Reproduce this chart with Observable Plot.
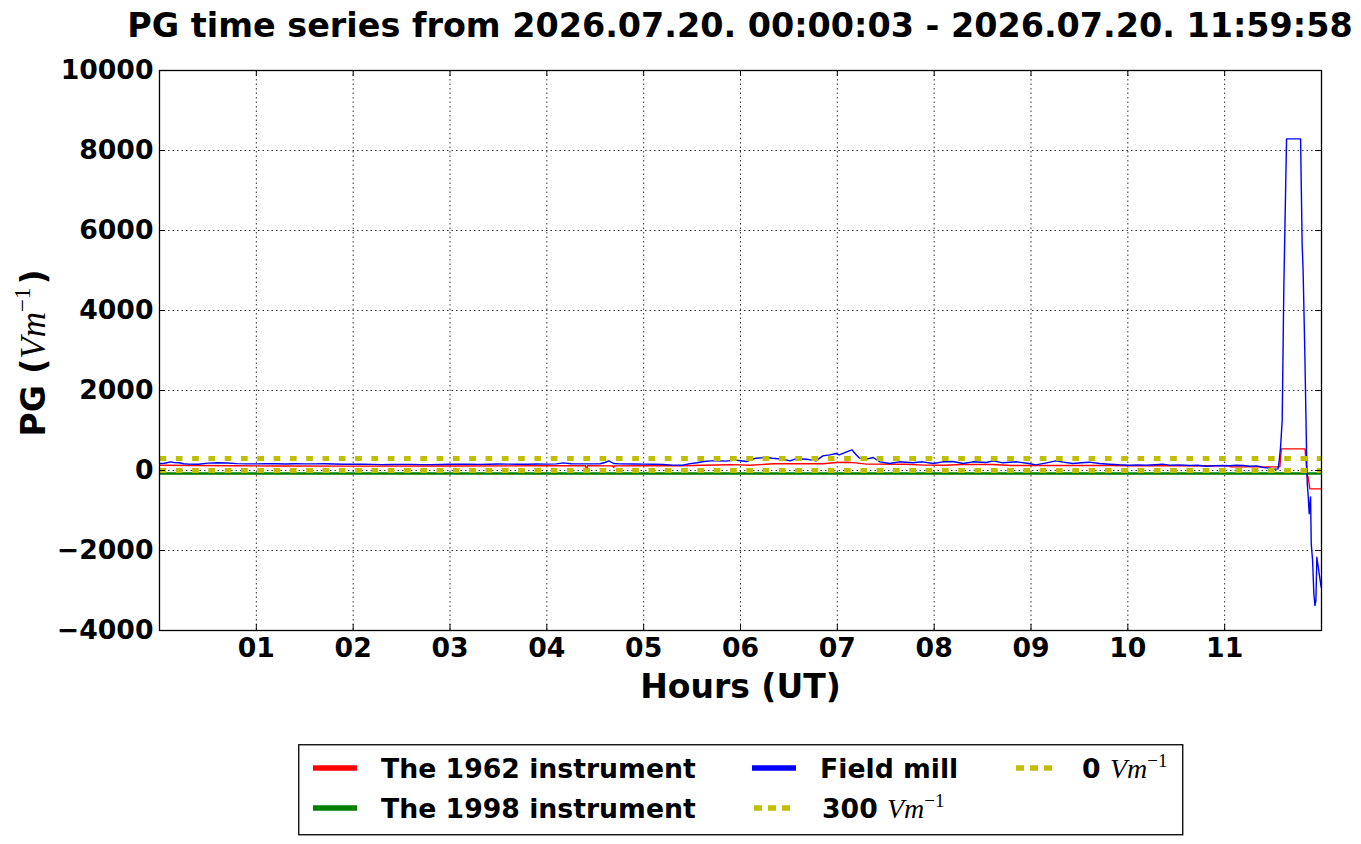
<!DOCTYPE html>
<html><head><meta charset="utf-8">
<script src="https://cdn.jsdelivr.net/npm/d3@7"></script>
<script src="https://cdn.jsdelivr.net/npm/@observablehq/plot@0.6"></script>
<style>
body{margin:0;background:#fff;width:1361px;height:844px;overflow:hidden;position:relative;font-family:"DejaVu Sans",sans-serif;}
#title{position:absolute;left:740px;top:9px;transform:translateX(-50%);white-space:nowrap;font-weight:bold;font-size:33.4px;line-height:33px;color:#000;}
#chart{position:absolute;left:0;top:50px;}
#legend{position:absolute;left:298px;top:744px;}
</style></head><body>
<div id="title">PG time series from 2026.07.20. 00:00:03 - 2026.07.20. 11:59:58</div>
<div id="chart"></div>
<div id="legend"></div>
<script>
// ---- data (hours UT, PG in V/m) ----
const fieldHours = [0.00,0.05,0.10,0.12,0.15,0.20,0.25,0.30,0.40,0.50,0.60,0.70,0.80,0.90,1.00,1.10,1.20,1.30,1.40,1.50,1.60,1.70,1.80,1.90,2.00,2.10,2.20,2.30,2.40,2.50,2.60,2.70,2.80,2.90,3.00,3.10,3.20,3.30,3.40,3.50,3.60,3.70,3.80,3.90,4.00,4.10,4.17,4.25,4.40,4.55,4.60,4.64,4.69,4.75,4.90,5.00,5.10,5.20,5.30,5.40,5.48,5.55,5.62,5.70,5.75,5.85,5.95,6.00,6.06,6.16,6.27,6.33,6.44,6.51,6.57,6.68,6.78,6.85,6.92,6.99,7.02,7.09,7.15,7.19,7.23,7.30,7.37,7.44,7.54,7.64,7.78,7.88,7.99,8.09,8.19,8.30,8.40,8.54,8.61,8.71,8.85,8.98,9.05,9.16,9.26,9.33,9.43,9.52,9.60,9.71,9.81,9.91,10.02,10.10,10.19,10.28,10.36,10.43,10.53,10.64,10.72,10.81,10.90,10.98,11.05,11.12,11.19,11.26,11.33,11.40,11.46,11.50,11.55,11.56,11.577,11.594,11.611,11.639,11.784,11.80,11.81,11.828,11.846,11.853,11.863,11.873,11.887,11.894,11.908,11.921,11.932,11.942,11.952,11.966,11.976,11.997];
const fieldValues = [175,182,205,215,198,195,168,160,158,185,192,188,172,165,166,172,170,164,168,166,165,170,162,158,160,155,152,148,150,152,152,146,148,150,155,160,158,154,156,162,160,155,158,162,160,165,190,168,166,168,200,240,175,165,162,160,158,150,135,132,172,195,225,240,242,235,260,245,225,308,325,308,283,242,292,283,242,367,392,425,392,458,517,408,308,283,325,217,175,217,192,217,175,217,225,175,217,200,242,192,217,175,142,192,242,208,175,195,208,175,158,142,133,140,133,145,158,133,140,125,130,108,120,125,118,133,125,108,115,75,60,33,40,170,575,1250,4580,8290,8290,5670,5000,2920,420,-325,-660,-1080,-660,-1830,-2250,-3080,-3375,-3250,-2170,-2400,-2580,-2920];

const inst1962Hours = [0.00,0.40,0.80,1.20,2.00,3.00,4.00,4.40,4.41,4.42,4.68,4.69,4.70,5.00,5.40,5.60,5.90,6.00,6.10,6.34,6.85,6.99,7.10,7.19,7.30,7.70,7.90,8.10,8.30,8.60,8.80,9.00,9.85,10.00,11.05,11.06,11.57,11.585,11.83,11.853,11.86,11.88,12.00];
const inst1962Values = [130,125,118,112,110,112,117,117,10,117,115,75,115,117,120,133,145,140,133,167,170,200,205,190,160,155,135,133,150,150,125,125,125,117,117,92,90,540,540,-170,-150,-460,-460];

const inst1998Hours = [0, 12];
const inst1998Values = [-75, -75];

const refHours = [0, 12];
const ref300 = [300, 300];
const ref0 = [0, 0];

const hourTicks = [1,2,3,4,5,6,7,8,9,10,11];
const yTicks = [-4000,-2000,0,2000,4000,6000,8000,10000];

const seriesNames = ["The 1962 instrument","The 1998 instrument","Field mill","300","0"];
const seriesColors = ["#ff0000","#008000","#0000ff","#bfbf00","#bfbf00"];

// ---- build rows ----
const rows = (hs, vs) => hs.map((h, i) => ({h, v: vs[i]}));
const fieldRows = rows(fieldHours, fieldValues);
const redRows = rows(inst1962Hours, inst1962Values);
const greenRows = rows(inst1998Hours, inst1998Values);
const r300Rows = rows(refHours, ref300);
const r0Rows = rows(refHours, ref0);

const W = 1361, H = 654, mT = 20, mB = 74, mL = 159, mR = 40;
const plotW = W - mL - mR, plotH = H - mT - mB;
const tickLen = 6;
const fmtY = d => d < 0 ? "\u2212" + Math.abs(d) : String(d);
const fmtX = d => String(d).padStart(2, "0");

const plot = Plot.plot({
  width: W, height: H,
  marginTop: mT, marginBottom: mB, marginLeft: mL, marginRight: mR,
  style: {fontFamily: "DejaVu Sans", fontWeight: "bold", fontSize: "26.7px", background: "white", color: "black", overflow: "visible"},
  x: {domain: [0, 12]},
  y: {domain: [-4000, 10000]},
  marks: [
    Plot.gridX({ticks: hourTicks, stroke: "black", strokeOpacity: 1, strokeWidth: 0.8, strokeDasharray: "1.5,3"}),
    Plot.gridY({ticks: yTicks, stroke: "black", strokeOpacity: 1, strokeWidth: 0.8, strokeDasharray: "1.5,3"}),
    Plot.line(redRows, {x: "h", y: "v", stroke: seriesColors[0], strokeWidth: 1.4, clip: true}),
    Plot.line(greenRows, {x: "h", y: "v", stroke: seriesColors[1], strokeWidth: 2.6, clip: true}),
    Plot.line(fieldRows, {x: "h", y: "v", stroke: seriesColors[2], strokeWidth: 1.4, clip: true}),
    Plot.line(r300Rows, {x: "h", y: "v", stroke: seriesColors[3], strokeWidth: 5, strokeDasharray: "6.7,9.6", strokeLinecap: "butt", clip: true}),
    Plot.line(r0Rows, {x: "h", y: "v", stroke: seriesColors[4], strokeWidth: 5, strokeDasharray: "6.7,9.6", strokeLinecap: "butt", clip: true}),
    // inward ticks on all four sides
    Plot.tickX(hourTicks, {x: d => d, stroke: "black", strokeWidth: 1, insetTop: plotH - tickLen}),
    Plot.tickX(hourTicks, {x: d => d, stroke: "black", strokeWidth: 1, insetBottom: plotH - tickLen}),
    Plot.tickY(yTicks, {y: d => d, stroke: "black", strokeWidth: 1, insetRight: plotW - tickLen}),
    Plot.tickY(yTicks, {y: d => d, stroke: "black", strokeWidth: 1, insetLeft: plotW - tickLen}),
    Plot.frame({stroke: "black", strokeWidth: 1.3}),
    Plot.axisX({ticks: hourTicks, tickFormat: fmtX, tickSize: 0, tickPadding: 8, fontSize: 26.7, fontWeight: "bold", label: null}),
    Plot.axisY({ticks: yTicks, tickFormat: fmtY, tickSize: 0, tickPadding: 6, fontSize: 26.7, fontWeight: "bold", label: null}),
    Plot.text(["Hours (UT)"], {text: d => d, frameAnchor: "bottom", dy: 67, fontSize: 33, fontWeight: "bold", fill: "black"})
  ]
});
document.getElementById("chart").appendChild(plot);

// y-axis label with mathtext-like unit
const svg = d3.select(plot);
const yl = svg.append("text")
  .attr("transform", `translate(45,${353 - 50}) rotate(-90)`)
  .attr("text-anchor", "middle")
  .attr("fill", "black");
yl.append("tspan").attr("font-family", "DejaVu Sans").attr("font-weight", "bold").attr("font-size", 33).text("PG (");
yl.append("tspan").attr("font-family", "Liberation Serif").attr("font-style", "italic").attr("font-weight", "normal").attr("font-size", 35).text("Vm");
yl.append("tspan").attr("font-family", "Liberation Serif").attr("font-weight", "normal").attr("font-size", 23).attr("dy", -15).text("\u22121");
yl.append("tspan").attr("font-family", "DejaVu Sans").attr("font-weight", "bold").attr("font-size", 33).attr("dy", 15).attr("dx", 3).text(")");

// legend
const lg = d3.select("#legend").append("svg").attr("width", 886).attr("height", 92);
lg.append("rect").attr("x", 0.75).attr("y", 0.75).attr("width", 884).attr("height", 90)
  .attr("fill", "white").attr("stroke", "black").attr("stroke-width", 1.3);
const items = [
  {name: seriesNames[0], color: seriesColors[0], x: 15, y: 24, dotted: false, unit: false},
  {name: seriesNames[1], color: seriesColors[1], x: 15, y: 64, dotted: false, unit: false},
  {name: seriesNames[2], color: seriesColors[2], x: 454, y: 24, dotted: false, unit: false},
  {name: seriesNames[3], color: seriesColors[3], x: 456, y: 64, dotted: true, unit: true},
  {name: seriesNames[4], color: seriesColors[4], x: 718, y: 24, dotted: true, unit: true}
];
items.forEach(it => {
  const ln = lg.append("line").attr("x1", it.x).attr("x2", it.x + 44).attr("y1", it.y).attr("y2", it.y)
    .attr("stroke", it.color).attr("stroke-width", 5.5);
  if (it.dotted) ln.attr("stroke-dasharray", "8,6").attr("x2", it.x + 37);
  const t = lg.append("text").attr("x", it.x + (it.x === 718 ? 66 : 68)).attr("y", it.y + 10).attr("fill", "black");
  t.append("tspan").attr("font-family", "DejaVu Sans").attr("font-weight", "bold").attr("font-size", 26.7).text(it.name + (it.unit ? " " : ""));
  if (it.unit) {
    t.append("tspan").attr("font-family", "Liberation Serif").attr("font-style", "italic").attr("font-size", 28).text("Vm");
    t.append("tspan").attr("font-family", "Liberation Serif").attr("font-size", 19).attr("dy", -11).text("\u22121");
  }
});
</script>
</body></html>
